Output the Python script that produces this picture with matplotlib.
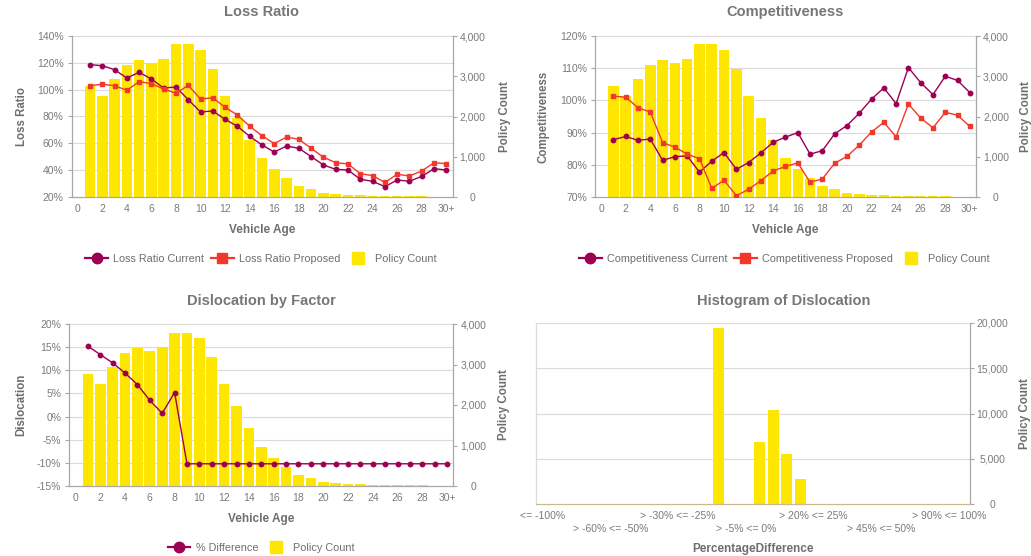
import matplotlib
matplotlib.use("Agg")
import matplotlib.pyplot as plt
import numpy as np
from matplotlib.lines import Line2D
from matplotlib.ticker import FuncFormatter
from matplotlib.transforms import blended_transform_factory

plt.rcParams['font.family'] = ['Liberation Sans', 'DejaVu Sans']

# ---------------------------------------------------------------- data
age_labels = [str(a) for a in range(1, 30)] + ["30+"]
policy_count = [2760, 2510, 2930, 3285, 3400, 3330, 3440, 3790, 3790, 3650,
                3180, 2510, 1970, 1425, 965, 690, 470, 270, 200, 110,
                85, 40, 40, 15, 15, 15, 15, 15, 5, 0]

loss_ratio_current = [118.6, 117.9, 114.9, 108.7, 112.9, 108.0, 101.2, 102.0, 92.5, 83.4,
                      84.1, 77.9, 72.7, 65.2, 58.8, 53.5, 58.0, 56.3, 50.1, 43.9,
                      40.6, 40.1, 33.2, 31.7, 27.7, 32.7, 31.7, 35.4, 41.1, 40.1]
loss_ratio_proposed = [103.0, 104.0, 103.0, 99.5, 106.0, 104.5, 100.5, 97.3, 103.2, 93.0,
                       94.0, 86.8, 81.1, 72.7, 65.7, 59.8, 64.7, 63.0, 56.3, 49.6,
                       45.6, 44.6, 37.4, 35.9, 30.9, 36.9, 35.7, 39.4, 45.6, 44.8]

comp_current = [87.8, 88.8, 87.6, 88.0, 81.4, 82.5, 82.8, 77.7, 81.1, 83.8,
                78.6, 80.7, 83.7, 87.0, 88.6, 90.0, 83.3, 84.4, 89.6, 92.2,
                96.0, 100.4, 103.9, 99.0, 110.2, 105.5, 101.8, 107.5, 106.2, 102.4]
comp_proposed = [101.3, 101.0, 97.7, 96.4, 86.9, 85.5, 83.3, 81.9, 72.7, 75.2,
                 70.4, 72.4, 75.1, 78.1, 79.5, 80.6, 74.6, 75.6, 80.5, 82.6,
                 86.1, 90.2, 93.2, 88.7, 98.9, 94.5, 91.5, 96.3, 95.4, 91.9]

pct_difference = [15.2, 13.4, 11.6, 9.4, 6.9, 3.5, 0.7, 5.2, -10.2, -10.2,
                  -10.2, -10.2, -10.2, -10.2, -10.2, -10.2, -10.2, -10.2, -10.2, -10.2,
                  -10.2, -10.2, -10.2, -10.2, -10.2, -10.2, -10.2, -10.2, -10.2, -10.2]

hist_bins = ["<= -100%", "> -100% <= -90%", "> -90% <= -80%", "> -80% <= -70%",
             "> -70% <= -60%", "> -60% <= -50%", "> -50% <= -45%", "> -45% <= -40%",
             "> -40% <= -35%", "> -35% <= -30%", "> -30% <= -25%", "> -25% <= -20%",
             "> -20% <= -15%", "> -15% <= -10%", "> -10% <= -5%", "> -5% <= 0%",
             "> 0% <= 5%", "> 5% <= 10%", "> 10% <= 15%", "> 15% <= 20%",
             "> 20% <= 25%", "> 25% <= 30%", "> 30% <= 35%", "> 35% <= 40%",
             "> 40% <= 45%", "> 45% <= 50%", "> 50% <= 60%", "> 60% <= 70%",
             "> 70% <= 80%", "> 80% <= 90%", "> 90% <= 100%", "> 100%"]
hist_counts = [0, 0, 0, 0, 0, 0, 0, 0, 0, 0, 0, 0, 0, 19500, 0, 0,
               6800, 10400, 5500, 2800, 0, 0, 0, 0, 0, 0, 0, 0, 0, 0, 0, 0]

# ---------------------------------------------------------------- style
YELLOW = "#FFE600"
CURRENT = "#9C0053"
PROPOSED = "#F2382B"
GRID = "#DADADA"
SPINE = "#A8A8A8"
TICK = "#7A7A7A"
LABEL = "#6E6E6E"
TITLE = "#777777"
PX = 0.72  # points per pixel at 100 dpi

W, H = 1031, 556
fig = plt.figure(figsize=(W / 100, H / 100), dpi=100)


def axes_px(left, top, right, bottom):
    return fig.add_axes([left / W, 1 - bottom / H, (right - left) / W, (bottom - top) / H])


def fx(px):
    return px / W


def fy(px):
    return 1 - px / H


count_fmt = FuncFormatter(lambda v, p: f"{int(v):,}")
pct_fmt = FuncFormatter(lambda v, p: f"{v:.0f}%")


def right_count_axis(ax, ticks, center_px, label_x):
    ax.set_yticks(ticks)
    ax.yaxis.set_major_formatter(count_fmt)
    ax.yaxis.tick_right()
    ax.yaxis.set_label_position("right")
    ax.tick_params(axis="y", direction="out", length=3.5 * PX, width=0.8, color=SPINE,
                   pad=(center_px - 3.5) * PX, labelsize=7.5, labelcolor=TICK)
    plt.setp(ax.get_yticklabels(), ha="center")
    ax.set_ylabel("Policy Count", fontsize=8.3, fontweight="bold", color=LABEL)
    ax.yaxis.set_label_coords(label_x, 0.5)


def combo_chart(rect, pct_ticks, lines, ylabel, title, xlabel_y, title_y, lab_x):
    ax = axes_px(*rect)
    axl = ax.twinx()
    x = np.arange(1, len(age_labels) + 1)

    ax.bar(x, policy_count, width=0.86, color=YELLOW, zorder=2)
    ax.set_ylim(0, 4000)
    right_count_axis(ax, [0, 1000, 2000, 3000, 4000], 20, lab_x[1])
    ax.set_xlim(-0.5, 30.5)
    xt = list(range(0, 31, 2))
    ax.set_xticks(xt)
    ax.set_xticklabels([str(v) for v in xt[:-1]] + ["30+"])
    ax.tick_params(axis="x", length=0, pad=5, labelsize=7.5, labelcolor=TICK)
    for s in ("top", "left"):
        ax.spines[s].set_visible(False)
    for s in ("right", "bottom"):
        ax.spines[s].set_color(SPINE)
        ax.spines[s].set_linewidth(0.9)

    for vals, color, marker, ms in lines:
        axl.plot(x, vals, color=color, marker=marker, markersize=ms, lw=1.0, zorder=3)
    axl.set_ylim(pct_ticks[0], pct_ticks[-1])
    axl.set_yticks(pct_ticks)
    axl.yaxis.set_major_formatter(pct_fmt)
    axl.yaxis.tick_left()
    axl.yaxis.set_label_position("left")
    axl.tick_params(axis="y", direction="out", length=4 * PX, width=0.8, color=SPINE,
                    pad=4 * PX, labelsize=7.5, labelcolor=TICK)
    for s in ("top", "right", "bottom"):
        axl.spines[s].set_visible(False)
    axl.spines["left"].set_color(SPINE)
    axl.spines["left"].set_linewidth(0.9)

    # horizontal grid follows the percentage scale but sits behind the bars
    tr = blended_transform_factory(ax.transAxes, axl.transData)
    for v in pct_ticks[1:]:
        ax.plot([0, 1], [v, v], transform=tr, color=GRID, lw=0.8, zorder=0.5,
                clip_on=False)

    axl.set_ylabel(ylabel, fontsize=8.3, fontweight="bold", color=LABEL)
    axl.yaxis.set_label_coords(lab_x[0], 0.5)

    cx = (rect[0] + rect[2]) / 2
    fig.text(fx(cx), fy(title_y), title, ha="center", va="center",
             fontsize=10.5, fontweight="bold", color=TITLE)
    fig.text(fx(cx), fy(xlabel_y), "Vehicle Age", ha="center", va="center",
             fontsize=8.5, fontweight="bold", color=LABEL)
    return ax, axl


def legend(ax, handles, labels, cx, cy):
    ax.legend(handles, labels, loc="center", bbox_to_anchor=(fx(cx), fy(cy)),
              bbox_transform=fig.transFigure, ncol=len(handles), frameon=False,
              fontsize=7.8, handlelength=2.1, handletextpad=0.5, columnspacing=0.6,
              labelcolor=LABEL, borderpad=0)


def h_current():
    return Line2D([], [], color=CURRENT, marker="o", markersize=7.5, lw=1.6)


def h_proposed():
    return Line2D([], [], color=PROPOSED, marker="s", markersize=7.5, lw=1.6)


def h_count():
    return Line2D([], [], color=YELLOW, marker="s", markersize=8, lw=0)


# ---------------------------------------------------------------- Loss Ratio
ax, axl = combo_chart((71.5, 36, 452.5, 197), [20, 40, 60, 80, 100, 120, 140],
                      [(loss_ratio_current, CURRENT, "o", 3.2),
                       (loss_ratio_proposed, PROPOSED, "s", 3.2)],
                      "Loss Ratio", "Loss Ratio", 230, 12, (-0.114, 1.121))
legend(axl, [h_current(), h_proposed(), h_count()],
       ["Loss Ratio Current", "Loss Ratio Proposed", "Policy Count"], 261, 259)

# ---------------------------------------------------------------- Competitiveness
ax, axl = combo_chart((595, 36, 976, 197), [70, 80, 90, 100, 110, 120],
                      [(comp_current, CURRENT, "o", 3.2),
                       (comp_proposed, PROPOSED, "s", 3.2)],
                      "Competitiveness", "Competitiveness", 230, 12, (-0.12, 1.116))
legend(axl, [h_current(), h_proposed(), h_count()],
       ["Competitiveness Current", "Competitiveness Proposed", "Policy Count"], 784, 259)

# ---------------------------------------------------------------- Dislocation by Factor
ax, axl = combo_chart((69.3, 324, 453.3, 486), [-15, -10, -5, 0, 5, 10, 15, 20],
                      [(pct_difference, CURRENT, "o", 3.2)],
                      "Dislocation", "Dislocation by Factor", 519, 301, (-0.11, 1.117))
legend(axl, [h_current(), h_count()], ["% Difference", "Policy Count"], 261, 548)

# ---------------------------------------------------------------- Histogram of Dislocation
axh = axes_px(536, 323, 969.5, 504)
xi = np.arange(len(hist_bins))
axh.bar(xi, hist_counts, width=0.82, color=YELLOW, zorder=2)
axh.set_xlim(-0.5, len(hist_bins) - 0.5)
axh.set_ylim(0, 20000)
right_count_axis(axh, [0, 5000, 10000, 15000, 20000], 23, 1.114)
for v in [5000, 10000, 15000, 20000]:
    axh.axhline(v, color=GRID, lw=0.8, zorder=0.5)
shown = list(range(0, len(hist_bins), 5))
axh.set_xticks(shown)
axh.set_xticklabels([hist_bins[i] for i in shown])
axh.tick_params(axis="x", length=0, pad=5, labelsize=7.5, labelcolor=TICK)
# every other category label drops to a second row
for k, tick in enumerate(axh.xaxis.get_major_ticks()):
    if k % 2 == 1:
        tick.set_pad(5 + 13 * PX)
axh.spines["top"].set_visible(False)
axh.spines["left"].set_color("#DCDCDC")
axh.spines["right"].set_color(SPINE)
axh.spines["bottom"].set_color("#C9B98F")
for s in ("left", "right", "bottom"):
    axh.spines[s].set_linewidth(0.9)
fig.text(fx(784), fy(301), "Histogram of Dislocation", ha="center", va="center",
         fontsize=10.5, fontweight="bold", color=TITLE)
fig.text(fx(753), fy(549), "PercentageDifference", ha="center", va="center",
         fontsize=8.5, fontweight="bold", color=LABEL)

fig.savefig("out.png", dpi=100)
